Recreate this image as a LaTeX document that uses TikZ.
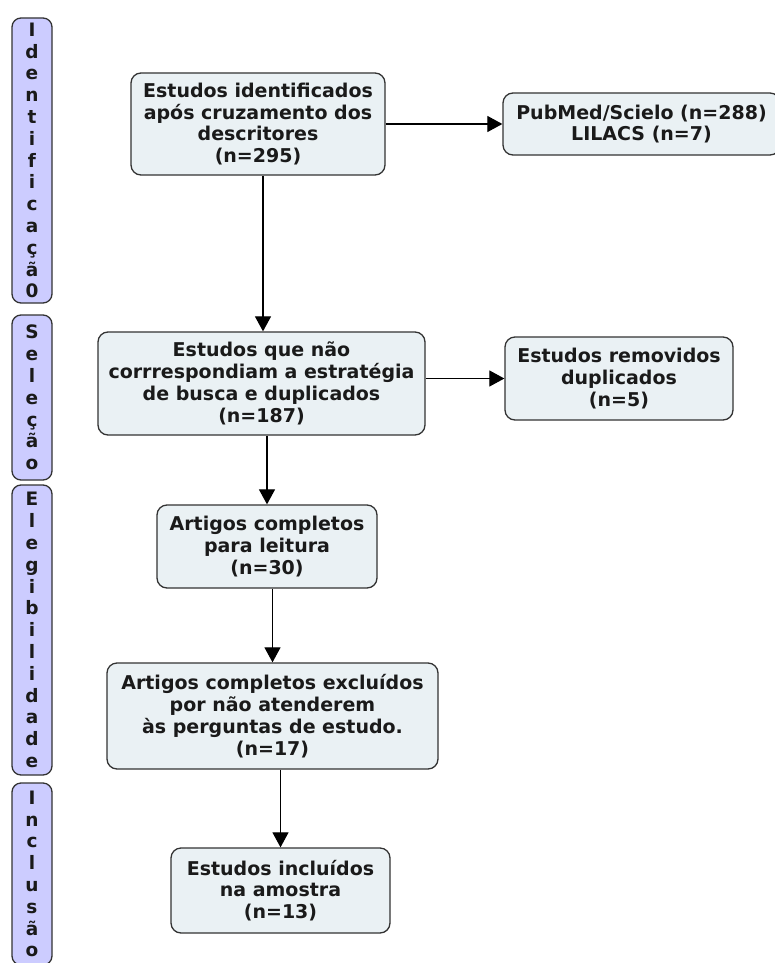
\documentclass[tikz,border=0pt]{standalone}
\usepackage{fontspec}
\setmainfont{DejaVu Sans}
\usetikzlibrary{arrows.meta}
\definecolor{barfill}{HTML}{CCCCFF}
\definecolor{boxfill}{HTML}{EAF1F4}
\definecolor{edgecol}{HTML}{333333}
\definecolor{txtcol}{HTML}{1A1A1A}
\begin{document}
\begin{tikzpicture}[x=1pt,y=-1pt,
  sidebar/.style={draw=edgecol, line width=1.3pt, fill=barfill, rounded corners=9pt,
    minimum width=40pt, inner sep=0pt, align=center,
    font=\fontsize{18.5}{21.8}\selectfont\bfseries, text=txtcol},
  flowbox/.style={draw=edgecol, line width=1.3pt, fill=boxfill, rounded corners=10pt,
    inner sep=0pt, align=center,
    font=\fontsize{19}{21.8}\selectfont\bfseries, text=txtcol},
  arr/.style={-{Triangle[length=15pt,width=16pt]}, line width=1.2pt, draw=black}]
\clip (0,0) rectangle (775,963);
\fill[white] (0,0) rectangle (775,963);

% side bars
\node[sidebar, minimum height=285pt] (ident) at (32,160.5)
  {I\\d\\e\\n\\t\\i\\f\\i\\c\\a\\ç\\ã\\0};
\node[sidebar, minimum height=165pt] (sel) at (32,397.5)
  {S\\e\\l\\e\\ç\\ã\\o};
\node[sidebar, minimum height=290pt] (eleg) at (32,630)
  {E\\l\\e\\g\\i\\b\\i\\l\\i\\d\\a\\d\\e};
\node[sidebar, minimum height=182pt] (incl) at (32,874)
  {I\\n\\c\\l\\u\\s\\ã\\o};

% flow boxes
\node[flowbox, minimum width=254pt, minimum height=102pt] (b1) at (258,124)
  {Estudos identificados\\após cruzamento dos\\descritores\\(n=295)};
\node[flowbox, minimum width=277pt, minimum height=62pt] (b2) at (641.5,124)
  {PubMed/Scielo (n=288)\\LILACS (n=7)};
\node[flowbox, minimum width=327pt, minimum height=103pt] (b3) at (261.5,383.5)
  {Estudos que não\\corrrespondiam a estratégia\\de busca e duplicados\\(n=187)};
\node[flowbox, minimum width=228pt, minimum height=83pt] (b4) at (619,378.5)
  {Estudos removidos\\duplicados\\(n=5)};
\node[flowbox, minimum width=220pt, minimum height=83pt] (b5) at (267,546.5)
  {Artigos completos\\para leitura\\(n=30)};
\node[flowbox, minimum width=331pt, minimum height=106pt] (b6) at (272.5,716)
  {Artigos completos excluídos\\por não atenderem\\às perguntas de estudo.\\(n=17)};
\node[flowbox, minimum width=219pt, minimum height=85pt] (b7) at (280.5,890.5)
  {Estudos incluídos\\na amostra\\(n=13)};

% connectors
\draw[arr] ([xshift=5pt]b1.south) -- ([xshift=5pt]b1.south |- b3.north);
\draw[arr] (b1.east) -- (b2.west);
\draw[arr] (b3.east |- b4.west) -- (b4.west);
\draw[arr] (b5.north |- b3.south) -- (b5.north);
\draw[arr] (b6.north |- b5.south) -- (b6.north);
\draw[arr] (b7.north |- b6.south) -- (b7.north);
\end{tikzpicture}
\end{document}
